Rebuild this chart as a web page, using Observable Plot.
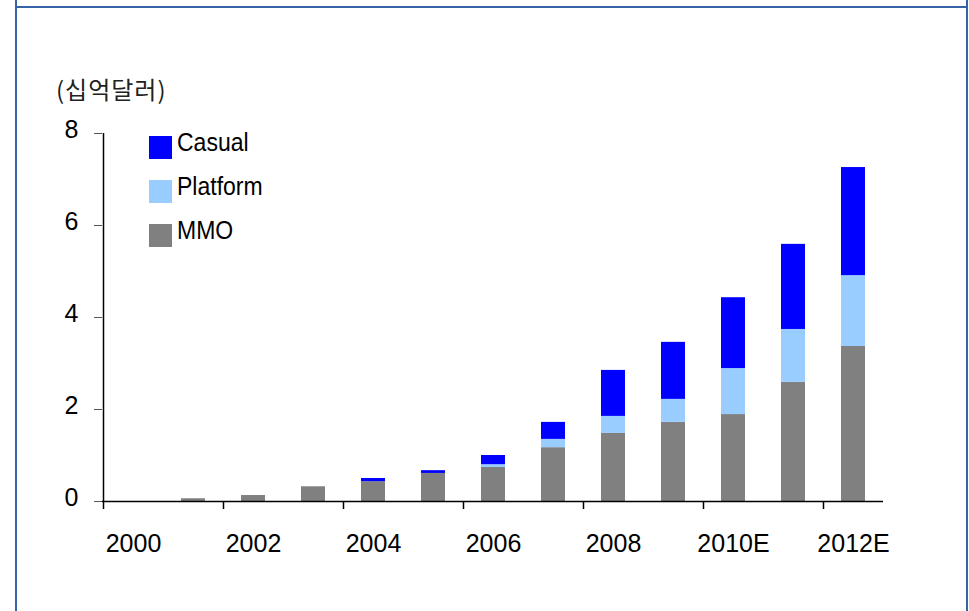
<!DOCTYPE html>
<html>
<head>
<meta charset="utf-8">
<script src="https://cdn.jsdelivr.net/npm/d3@7"></script>
<script src="https://cdn.jsdelivr.net/npm/@observablehq/plot@0.6"></script>
<style>
  html, body { margin: 0; padding: 0; background: #fff; }
  #wrap { position: relative; width: 969px; height: 611px; overflow: hidden; font-family: "Liberation Sans", Arial, sans-serif; }
  .vline { position: absolute; top: 0; width: 2px; height: 611px; background: #3563a8; }
  .hline { position: absolute; top: 6px; left: 15px; width: 953px; height: 2px; background: #3563a8; }
  #unit { position: absolute; left: 56px; top: 71px; font-family: "Noto Sans CJK KR", sans-serif; font-size: 24px; letter-spacing: 1px; color: #222; }
  #legend { position: absolute; left: 149px; top: 131px; }
  .item { position: relative; height: 44px; }
  .sw { position: absolute; left: 0; top: 5px; width: 23px; height: 23px; }
  .lab { position: absolute; left: 28px; top: -3px; font-size: 25px; color: #000; transform: scaleX(0.92); transform-origin: left; }
  #chart { position: absolute; left: 0; top: 0; }
</style>
</head>
<body>
<div id="wrap">
  <div id="chart"></div>
  <div class="vline" style="left:15px"></div>
  <div class="vline" style="left:966px"></div>
  <div class="hline"></div>
  <div id="unit">(십억달러)</div>
  <div id="legend"></div>
</div>
<script>
const years = ["2000","2001","2002","2003","2004","2005","2006","2007","2008","2009","2010E","2011E","2012E"];
const tickYears = ["2000","2002","2004","2006","2008","2010E","2012E"];
const seriesNames = ["MMO","Platform","Casual"];
const seriesColors = ["#808080","#99ccff","#0000ff"];
const mmo      = [0, 0.06, 0.13, 0.32, 0.43, 0.61, 0.74, 1.17, 1.48, 1.72, 1.89, 2.59, 3.37];
const platform = [0, 0,    0,    0,    0,    0,    0.06, 0.18, 0.37, 0.50, 1.00, 1.15, 1.54];
const casual   = [0, 0,    0,    0,    0.07, 0.06, 0.20, 0.37, 1.00, 1.24, 1.54, 1.85, 2.35];
const yTicks = [0, 2, 4, 6, 8];

const seriesValues = [mmo, platform, casual];
const data = [];
seriesNames.forEach((s, si) => years.forEach((yr, i) => data.push({year: yr, series: s, value: seriesValues[si][i]})));

const chart = Plot.plot({
  width: 969,
  height: 611,
  marginLeft: 102,
  marginRight: 86,
  marginTop: 133,
  marginBottom: 110,
  style: {fontFamily: "'Liberation Sans', Arial, sans-serif", color: "#000", background: "transparent"},
  x: {domain: years, paddingInner: 0.6, paddingOuter: 0.3, axis: null},
  y: {domain: [0, 8], axis: null},
  color: {domain: seriesNames, range: seriesColors},
  marks: [
    Plot.barY(data, {x: "year", y: "value", fill: "series", order: seriesNames}),
    Plot.ruleY([0], {stroke: "#000", strokeWidth: 1.5}),
    Plot.ruleX([years[0]], {x: d => d, y1: 0, y2: 8, dx: -30, stroke: "#000", strokeWidth: 1.5}),
    Plot.ruleX(tickYears, {x: d => d, y1: 0, y2: 0, insetBottom: -8, dx: -30, stroke: "#000", strokeWidth: 1.5}),
    Plot.axisX({ticks: tickYears, tickSize: 0, tickPadding: 33, fontSize: 25, anchor: "bottom", label: null}),
    Plot.axisY({ticks: yTicks, tickSize: 8, tickFormat: () => "", anchor: "left", label: null, stroke: "#555"}),
    Plot.axisY({ticks: yTicks, tickSize: 0, tickPadding: 24, fontSize: 25, dy: -4, anchor: "left", label: null})
  ]
});
document.getElementById("chart").appendChild(chart);

const legend = document.getElementById("legend");
[2, 1, 0].forEach(i => {
  const it = document.createElement("div");
  it.className = "item";
  it.innerHTML = `<div class="sw" style="background:${seriesColors[i]}"></div><div class="lab">${seriesNames[i]}</div>`;
  legend.appendChild(it);
});
</script>
</body>
</html>
